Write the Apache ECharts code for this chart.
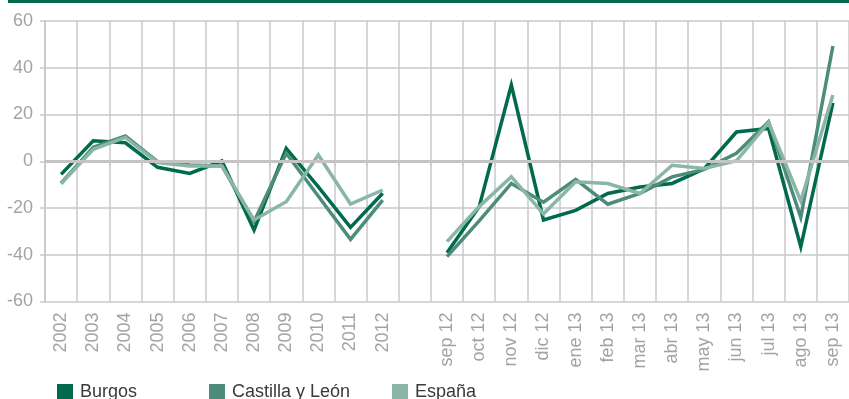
<!DOCTYPE html>
<html>
<head>
<meta charset="utf-8">
<script src="https://cdn.jsdelivr.net/npm/echarts@6/dist/echarts.min.js"></script>
<style>
  html, body { margin: 0; padding: 0; background: #ffffff; }
  #chart { width: 849px; height: 399px; }
</style>
</head>
<body>
<div id="chart"></div>
<script>
// Annual variation (%) by year, then by month; the empty slot separates the two periods
const categories = [
  '2002', '2003', '2004', '2005', '2006', '2007', '2008', '2009', '2010', '2011', '2012',
  '',
  'sep 12', 'oct 12', 'nov 12', 'dic 12', 'ene 13', 'feb 13', 'mar 13', 'abr 13',
  'may 13', 'jun 13', 'jul 13', 'ago 13', 'sep 13'
];

const burgos = [
  -5.6, 8.8, 7.9, -2.6, -5.2, 0.1, -29.4, 5.5, -11, -28.3, -13.7,
  null,
  -39.1, -19.5, 32.6, -25.1, -21, -13.8, -11, -9.5, -3.2, 12.5, 14, -36.6, 25
];

const castillaLeon = [
  -9.4, 6, 10.8, -0.2, -1.6, -2, -25.8, 3.4, -15, -33.4, -16.6,
  null,
  -40.8, -25.5, -9.5, -17.5, -7.8, -18.4, -13.8, -6.7, -3.5, 3.4, 16.9, -24, 49.3
];

const espana = [
  -9.7, 5.1, 10.2, -0.6, -2, -2, -25.1, -17.3, 2.7, -18.3, -12.3,
  null,
  -34.4, -19.4, -6.6, -22.5, -8.8, -9.5, -13.8, -1.7, -3.1, 0.2, 16.5, -17, 28.3
];

const seriesNames = ['Burgos', 'Castilla y León', 'España'];
const colors = ['#00694e', '#4e8c7a', '#8ab6a6'];

const yMin = -60, yMax = 60, yStep = 20;

const chart = echarts.init(document.getElementById('chart'), null, { renderer: 'canvas' });

const gridColor = '#c9c9c9';
const labelColor = '#a3a3a3';
const fontFamily = '"Liberation Sans", Arial, sans-serif';

function legendAt(name, left) {
  return {
    show: true,
    data: [name],
    left: left,
    top: 383,
    orient: 'horizontal',
    itemWidth: 16,
    itemHeight: 16,
    itemGap: 0,
    icon: 'rect',
    padding: 0,
    selectedMode: false,
    textStyle: { fontFamily: fontFamily, fontSize: 18, color: '#3a3a3a', padding: [0, 0, 0, 2] }
  };
}

const lineSeries = [burgos, castillaLeon, espana].map((data, i) => ({
  name: seriesNames[i],
  type: 'line',
  data: data,
  connectNulls: false,
  symbol: 'none',
  smooth: false,
  color: colors[i],
  lineStyle: { width: 3.5, color: colors[i], join: 'miter' },
  itemStyle: { color: colors[i] },
  z: 3,
  animation: false
}));

// thicker reference line at zero, drawn beneath the series
lineSeries.push({
  name: 'cero',
  type: 'line',
  data: [],
  z: 1,
  silent: true,
  animation: false,
  markLine: {
    silent: true,
    symbol: 'none',
    label: { show: false },
    lineStyle: { color: '#c4c4c4', width: 3, type: 'solid' },
    data: [{ yAxis: 0 }],
    animation: false
  }
});

const option = {
  backgroundColor: '#ffffff',
  animation: false,
  grid: { left: 45, top: 21, width: 810, bottom: 97.5, containLabel: false },
  graphic: [{
    type: 'rect',
    shape: { x: 8, y: 0, width: 841, height: 3 },
    style: { fill: '#00694e' },
    silent: true
  }],
  legend: [
    legendAt('Burgos', 57),
    legendAt('Castilla y León', 209),
    legendAt('España', 392)
  ],
  xAxis: {
    type: 'category',
    data: categories,
    boundaryGap: true,
    axisLine: { show: true, lineStyle: { color: gridColor, width: 1.5 } },
    axisTick: { show: true, length: 5, alignWithLabel: false, interval: 0, lineStyle: { color: gridColor, width: 1.5 } },
    splitLine: { show: true, interval: 0, lineStyle: { color: gridColor, width: 1.5 } },
    axisLabel: {
      interval: 0,
      rotate: 90,
      margin: 11,
      color: labelColor,
      fontFamily: fontFamily,
      fontSize: 18
    }
  },
  yAxis: {
    type: 'value',
    min: yMin,
    max: yMax,
    interval: yStep,
    axisLine: { show: true, lineStyle: { color: gridColor, width: 1.5 } },
    axisTick: { show: true, length: 5, lineStyle: { color: gridColor, width: 1.5 } },
    splitLine: { show: true, lineStyle: { color: gridColor, width: 1.5 } },
    axisLabel: {
      margin: 12,
      color: labelColor,
      fontFamily: fontFamily,
      fontSize: 18
    }
  },
  series: lineSeries
};

chart.setOption(option);
</script>
</body>
</html>
